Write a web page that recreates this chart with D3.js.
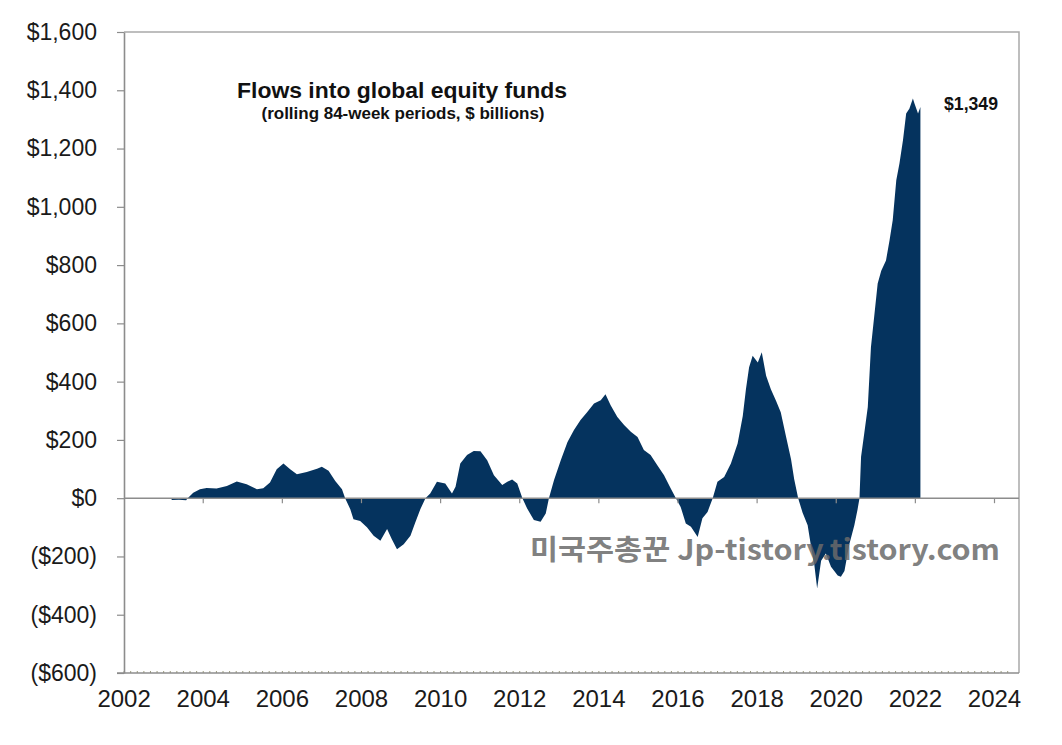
<!DOCTYPE html>
<html>
<head>
<meta charset="utf-8">
<script src="https://cdn.jsdelivr.net/npm/d3@7"></script>
<style>
  html, body { margin: 0; padding: 0; background: #ffffff; }
  svg { display: block; }
</style>
</head>
<body>
<svg id="chart" width="1062" height="745"></svg>
<script>
// ---- data (decimal year, rolling 84-week flows, $ billions) ----
const years = [
  2003.20, 2003.22, 2003.40, 2003.58, 2003.62, 2003.76, 2003.93, 2004.10, 2004.35, 2004.61,
  2004.86, 2005.11, 2005.37, 2005.53, 2005.70, 2005.87, 2006.04, 2006.21, 2006.38, 2006.63,
  2006.89, 2007.01, 2007.18, 2007.35, 2007.52, 2007.60, 2007.73, 2007.81, 2007.98, 2008.15,
  2008.32, 2008.49, 2008.66, 2008.78, 2008.91, 2009.08, 2009.25, 2009.37, 2009.50, 2009.63,
  2009.75, 2009.92, 2010.13, 2010.30, 2010.39, 2010.51, 2010.68, 2010.85, 2011.02, 2011.19,
  2011.36, 2011.57, 2011.70, 2011.82, 2011.95, 2012.08, 2012.20, 2012.37, 2012.54, 2012.67,
  2012.75, 2012.88, 2013.05, 2013.22, 2013.38, 2013.55, 2013.72, 2013.89, 2014.06, 2014.18,
  2014.31, 2014.48, 2014.65, 2014.82, 2014.99, 2015.15, 2015.32, 2015.49, 2015.66, 2015.83,
  2015.96, 2016.08, 2016.21, 2016.34, 2016.51, 2016.63, 2016.76, 2016.89, 2017.01, 2017.18,
  2017.35, 2017.52, 2017.65, 2017.73, 2017.81, 2017.90, 2018.03, 2018.13, 2018.24, 2018.36,
  2018.49, 2018.61, 2018.74, 2018.87, 2018.95, 2019.05, 2019.16, 2019.29, 2019.37, 2019.46,
  2019.53, 2019.63, 2019.75, 2019.88, 2020.05, 2020.13, 2020.22, 2020.34, 2020.47, 2020.55,
  2020.60, 2020.64, 2020.72, 2020.81, 2020.89, 2020.98, 2021.06, 2021.15, 2021.27, 2021.36,
  2021.44, 2021.53, 2021.61, 2021.70, 2021.78, 2021.86, 2021.95, 2021.99, 2022.08, 2022.14
];
const flows = [
  0, -6, -5, -7, 0, 19, 31, 35, 33, 42,
  57, 48, 31, 34, 54, 99, 119, 99, 82, 90,
  101, 108, 94, 59, 31, 0, -38, -72, -78, -100,
  -129, -146, -106, -141, -175, -158, -129, -84, -38, 0,
  16, 56, 50, 16, 39, 119, 148, 162, 161, 130,
  79, 45, 56, 64, 50, 0, -35, -75, -81, -53,
  0, 62, 130, 193, 233, 268, 296, 325, 336, 357,
  319, 279, 251, 228, 210, 165, 148, 113, 79, 33,
  0, -30, -87, -98, -133, -69, -47, 0, 56, 73,
  119, 188, 282, 374, 449, 489, 466, 501, 420, 374,
  334, 295, 213, 134, 65, 0, -49, -93, -161, -230,
  -310, -215, -190, -235, -265, -270, -250, -160, -93, -40,
  0, 142, 222, 313, 519, 634, 737, 781, 816, 885,
  954, 1091, 1149, 1229, 1320, 1337, 1372, 1355, 1320, 1343
];
const yTicks = [-600, -400, -200, 0, 200, 400, 600, 800, 1000, 1200, 1400, 1600];
const xTicks = [2002, 2004, 2006, 2008, 2010, 2012, 2014, 2016, 2018, 2020, 2022, 2024];
const titleText = "Flows into global equity funds";
const subtitleText = "(rolling  84-week periods, $ billions)";
const lastLabel = "$1,349";
const watermark = "미국주총꾼 Jp-tistory.tistory.com";

// ---- layout ----
const pL = 124, pR = 1019, pT = 32, pB = 673;
const svg = d3.select("#chart");
const x = d3.scaleLinear().domain([2002, 2024]).range([123.6, 994]);
const y = d3.scaleLinear().domain([-600, 1600]).range([pB, pT]);
const data = years.map((d, i) => ({ t: d, v: flows[i] }));
const axisColor = "#8c8c8c";
const textColor = "#1a1a1a";
const font = "'Liberation Sans', Arial, sans-serif";

// frame (top & right)
svg.append("path")
  .attr("d", `M${pL},${pT}H${pR}V${pB}`)
  .attr("fill", "none").attr("stroke", "#a9a9a9").attr("stroke-width", 1.5);

// area
const area = d3.area().x(d => x(d.t)).y0(y(0)).y1(d => y(d.v)).curve(d3.curveLinear);
svg.append("path").datum(data).attr("d", area).attr("fill", "#05335e");

// zero line with ticks
const zeroAxis = svg.append("g").attr("transform", `translate(0,${y(0)})`)
  .call(d3.axisBottom(x).tickValues(xTicks.slice(1)).tickSize(5).tickFormat("").tickSizeOuter(0));
zeroAxis.select(".domain").remove();
zeroAxis.selectAll(".tick line").attr("stroke", axisColor).attr("stroke-width", 1.2);
svg.append("line").attr("x1", pL).attr("x2", pR).attr("y1", y(0)).attr("y2", y(0))
  .attr("stroke", axisColor).attr("stroke-width", 1.6);

// bottom axis: minor ticks + labels
const minor = d3.range(0, 135).map(i => 2002 + i / 6).filter(v => x(v) <= pR - 2);
const minorAxis = svg.append("g").attr("transform", `translate(0,${pB})`)
  .call(d3.axisTop(x).tickValues(minor).tickSize(2).tickFormat("").tickSizeOuter(0));
minorAxis.select(".domain").remove();
minorAxis.selectAll(".tick line").attr("stroke", "#9a9a7a").attr("stroke-width", 1);
svg.append("line").attr("x1", pL - 7).attr("x2", pR).attr("y1", pB).attr("y2", pB)
  .attr("stroke", axisColor).attr("stroke-width", 1.6);

const xAxis = svg.append("g").attr("transform", `translate(0,${pB})`)
  .call(d3.axisBottom(x).tickValues(xTicks).tickSize(0).tickPadding(17).tickFormat(d3.format("d")));
xAxis.select(".domain").remove();
xAxis.selectAll("text").attr("font-family", font).attr("font-size", 24).attr("fill", textColor);

// left axis
const fmt = d3.format(",");
const yAxis = svg.append("g").attr("transform", `translate(${pL},0)`)
  .call(d3.axisLeft(y).tickValues(yTicks).tickSize(7).tickPadding(20).tickSizeOuter(0)
    .tickFormat(v => v < 0 ? `($${fmt(-v)})` : `$${fmt(v)}`));
yAxis.select(".domain").attr("stroke", axisColor).attr("stroke-width", 1.6);
yAxis.selectAll(".tick line").attr("stroke", axisColor).attr("stroke-width", 1.2);
yAxis.selectAll("text").attr("font-family", font).attr("font-size", 23).attr("fill", textColor);

// titles
svg.append("text").attr("x", 402).attr("y", 98).attr("text-anchor", "middle")
  .attr("font-family", font).attr("font-weight", "bold").attr("font-size", 22.5)
  .attr("fill", "#111").attr("textLength", 330).attr("lengthAdjust", "spacingAndGlyphs")
  .text(titleText);
svg.append("text").attr("x", 403).attr("y", 119).attr("text-anchor", "middle")
  .attr("font-family", font).attr("font-weight", "bold").attr("font-size", 16.5)
  .attr("fill", "#111").attr("textLength", 283).attr("lengthAdjust", "spacingAndGlyphs")
  .text(subtitleText);

// end label
svg.append("text").attr("x", 944).attr("y", 110)
  .attr("font-family", font).attr("font-weight", "bold").attr("font-size", 18.5)
  .attr("fill", "#111").attr("textLength", 54).attr("lengthAdjust", "spacingAndGlyphs")
  .text(lastLabel);

// watermark
svg.append("text").attr("x", 530).attr("y", 560)
  .attr("font-family", "'Noto Sans CJK KR', 'Noto Sans', sans-serif").attr("font-weight", "bold")
  .attr("font-size", 28).attr("fill", "#6a6a6a").attr("fill-opacity", 0.85)
  .attr("textLength", 470).attr("lengthAdjust", "spacingAndGlyphs")
  .text(watermark);
</script>
</body>
</html>
